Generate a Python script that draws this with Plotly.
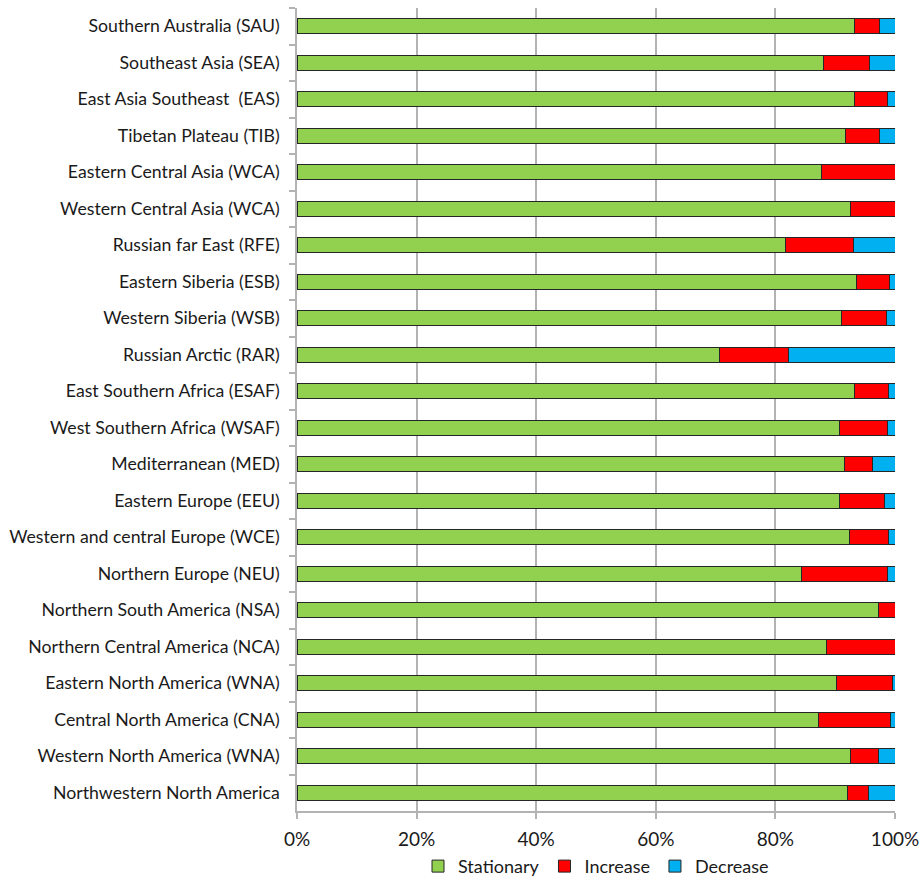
import plotly.graph_objects as go

regions = [
    "Southern Australia (SAU)",
    "Southeast Asia (SEA)",
    "East Asia Southeast \u00a0(EAS)",
    "Tibetan Plateau (TIB)",
    "Eastern Central Asia (WCA)",
    "Western Central Asia (WCA)",
    "Russian far East (RFE)",
    "Eastern Siberia (ESB)",
    "Western Siberia (WSB)",
    "Russian Arctic (RAR)",
    "East Southern Africa (ESAF)",
    "West Southern Africa (WSAF)",
    "Mediterranean (MED)",
    "Eastern Europe (EEU)",
    "Western and central Europe (WCE)",
    "Northern Europe (NEU)",
    "Northern South America (NSA)",
    "Northern Central America (NCA)",
    "Eastern North America (WNA)",
    "Central North America (CNA)",
    "Western North America (WNA)",
    "Northwestern North America",
]

stationary = [93.2, 88.0, 93.2, 91.8, 87.7, 92.5, 81.7, 93.5, 91.1, 70.6, 93.2,
              90.8, 91.5, 90.8, 92.4, 84.4, 97.3, 88.6, 90.3, 87.2, 92.5, 92.0]
increase = [4.2, 7.8, 5.6, 5.6, 12.3, 7.5, 11.4, 5.6, 7.5, 11.6, 5.7,
            7.9, 4.7, 7.4, 6.5, 14.4, 2.7, 11.4, 9.2, 12.1, 4.8, 3.5]
decrease = [round(100 - s - i, 1) for s, i in zip(stationary, increase)]

series = [
    ("Stationary", stationary, "#92D050"),
    ("Increase", increase, "#FF0000"),
    ("Decrease", decrease, "#00B0F0"),
]

fig = go.Figure()
for name, vals, col in series:
    fig.add_trace(go.Bar(
        y=regions, x=vals, name=name, orientation="h",
        marker=dict(color=col, line=dict(color="#262626", width=1)),
    ))

font = "Lato, 'Open Sans', sans-serif"
fig.update_layout(
    barmode="stack",
    bargap=0.59,
    width=923, height=877,
    margin=dict(l=297, r=28, t=8, b=66, autoexpand=False),
    paper_bgcolor="white", plot_bgcolor="white",
    font=dict(family=font, size=17.7, color="#1a1a1a"),
    legend=dict(orientation="h", x=0.5, xanchor="center", y=-0.069, yanchor="middle",
                font=dict(size=18), traceorder="normal", itemwidth=30),
    xaxis=dict(range=[0, 100], tickvals=[0, 20, 40, 60, 80, 100],
               ticktext=["0%", "20%", "40%", "60%", "80%", "100%"],
               showgrid=True, gridcolor="#B3B3B3", gridwidth=1.5,
               showline=True, linecolor="#B3B3B3", linewidth=1.5,
               ticks="outside", tickcolor="#B3B3B3", ticklen=6, tickwidth=1.5,
               ticklabelstandoff=4,
               zeroline=False, tickfont=dict(size=19), fixedrange=True),
    yaxis=dict(autorange="reversed", type="category", showgrid=False,
               showline=True, linecolor="#B3B3B3", linewidth=1.5,
               ticks="outside", tickson="boundaries", tickcolor="#B3B3B3",
               ticklen=6, tickwidth=1.5, ticklabelstandoff=12,
               tickfont=dict(size=17.7), fixedrange=True),
)

fig.write_html(
    "out.html",
    config={"displayModeBar": False},
    post_script="document.body.style.margin='0';document.body.style.overflow='hidden';",
)
